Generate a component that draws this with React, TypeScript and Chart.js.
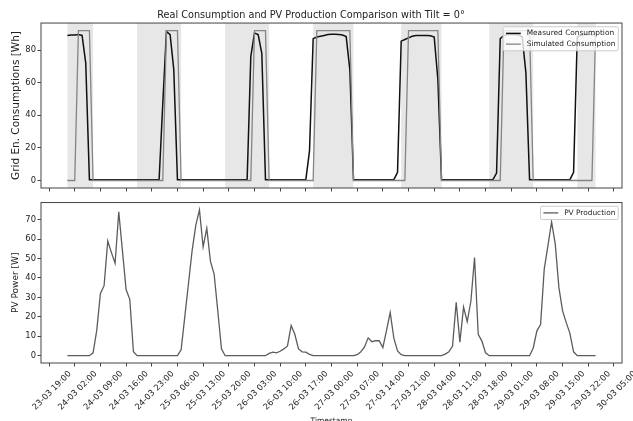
import React, { useEffect, useRef } from 'react';
import { Chart, registerables } from 'chart.js';

Chart.register(...registerables);

const FAMILY = "'DejaVu Sans', 'Liberation Sans', sans-serif";
const TEXT = '#222222';
const AXIS = '#444444';
Chart.defaults.font.family = FAMILY;

// Tick labels of the shared time axis (dd-mm HH:MM)
const tickLabels = [
  '23-03 19:00', '24-03 02:00', '24-03 09:00', '24-03 16:00', '24-03 23:00',
  '25-03 06:00', '25-03 13:00', '25-03 20:00', '26-03 03:00', '26-03 10:00',
  '26-03 17:00', '27-03 00:00', '27-03 07:00', '27-03 14:00', '27-03 21:00',
  '28-03 04:00', '28-03 11:00', '28-03 18:00', '29-03 01:00', '29-03 08:00',
  '29-03 15:00', '29-03 22:00', '30-03 05:00',
];

// Hourly samples starting 24-03 00:00
const measured = [
  89, 89.3, 89.3, 89.5, 89, 72, 0.5,
  0.5, 0.5, 0.5, 0.5, 0.5, 0.5, 0.5, 0.5, 0.5, 0.5, 0.5, 0.5, 0.5, 0.5, 0.5, 0.5, 0.5, 0.5, 0.5,
  47, 91.5, 89.5, 68,
  0.5, 0.5, 0.5, 0.5, 0.5, 0.5, 0.5, 0.5, 0.5, 0.5, 0.5, 0.5, 0.5, 0.5, 0.5, 0.5, 0.5, 0.5, 0.5, 0.5,
  76, 90.5, 89.5, 78,
  0.5, 0.5, 0.5, 0.5, 0.5, 0.5, 0.5, 0.5, 0.5, 0.5, 0.5, 0.5,
  18, 87, 88, 88.5, 89, 89.5, 89.7, 89.7, 89.5, 89.2, 88.3, 68,
  0.5, 0.5, 0.5, 0.5, 0.5, 0.5, 0.5, 0.5, 0.5, 0.5, 0.5, 0.5,
  5, 85.5, 86.5, 87.5, 88.5, 89, 89, 89, 89, 88.8, 88, 62,
  0.5, 0.5, 0.5, 0.5, 0.5, 0.5, 0.5, 0.5, 0.5, 0.5, 0.5, 0.5, 0.5, 0.5, 0.5,
  4.5, 87, 89, 89.5, 89.5, 89.5, 89.3, 88, 66,
  0.5, 0.5, 0.5, 0.5, 0.5, 0.5, 0.5, 0.5, 0.5, 0.5, 0.5, 0.5,
  5, 88, 89, 89.5, 89.5, 89.5, 89.5,
];

const simulated = [
  0, 0, 0,
  92, 92, 92, 92,
  0, 0, 0, 0, 0, 0, 0, 0, 0, 0, 0, 0, 0, 0, 0, 0, 0, 0, 0, 0,
  92, 92, 92, 92,
  0, 0, 0, 0, 0, 0, 0, 0, 0, 0, 0, 0, 0, 0, 0, 0, 0, 0, 0, 0,
  92, 92, 92, 92,
  0, 0, 0, 0, 0, 0, 0, 0, 0, 0, 0, 0, 0,
  92, 92, 92, 92, 92, 92, 92, 92, 92, 92,
  0, 0, 0, 0, 0, 0, 0, 0, 0, 0, 0, 0, 0, 0, 0,
  92, 92, 92, 92, 92, 92, 92, 92, 92,
  0, 0, 0, 0, 0, 0, 0, 0, 0, 0, 0, 0, 0, 0, 0, 0, 0,
  92, 92, 92, 92, 92, 92, 92, 92,
  0, 0, 0, 0, 0, 0, 0, 0, 0, 0, 0, 0, 0, 0, 0, 0, 0,
  92,
];

const pvProduction = [
  0, 0, 0, 0, 0, 0, 0, 1.5, 13, 32, 36, 59, 53, 47.5, 74, 54, 34, 29, 2,
  0, 0, 0, 0, 0, 0, 0, 0, 0, 0, 0, 0,
  3, 20, 37, 54, 67, 75, 56, 65.5, 48.5, 42, 23, 3.5,
  0, 0, 0, 0, 0, 0, 0, 0, 0, 0, 0, 0,
  1.2, 1.8, 1.5, 2.3, 3.5, 5, 15.5, 11, 3.5, 2, 1.8, 0.7,
  0, 0, 0, 0, 0, 0, 0, 0, 0, 0, 0, 0,
  0.5, 2, 4.5, 9.2, 7.2, 7.8, 7.7, 4.2, 13, 22.2, 9, 2.5, 0.5,
  0, 0, 0, 0, 0, 0, 0, 0, 0, 0, 0,
  0.8, 2, 5, 27.5, 7, 25, 17.5, 28, 50.5, 11, 7.5, 1.5,
  0, 0, 0, 0, 0, 0, 0, 0, 0, 0, 0, 0,
  4, 12.8, 16, 44.5, 56.5, 68.8, 57.5, 35, 23, 17, 11.5, 2,
  0, 0, 0, 0, 0, 0,
];

// Night periods (hours since 24-03 00:00)
const nightStart = [0, 19, 43, 67, 91, 115, 139];
const nightEnd = [7, 31, 55, 78, 102, 127, 144];

const topYTicks = [0, 20, 40, 60, 80];
const bottomYTicks = [0, 10, 20, 30, 40, 50, 60, 70];

const hours = measured.map((_, i) => i);
const tickHours = tickLabels.map((l) => {
  const [d, t] = l.split(' ');
  return (parseInt(d.slice(0, 2), 10) - 24) * 24 + parseInt(t.slice(0, 2), 10);
});
const toPoints = (vals: number[]) => vals.map((v, i) => ({ x: hours[i], y: v }));

const X_MIN = -7.2;
const X_MAX = 151.2;

const nightShade = {
  id: 'nightShade',
  beforeDatasetsDraw(chart: any, _a: any, opts: any) {
    if (!opts || !opts.enabled) return;
    const { ctx, chartArea, scales } = chart;
    const x = scales.x;
    ctx.save();
    ctx.fillStyle = 'rgba(128,128,128,0.19)';
    for (let i = 0; i < nightStart.length; i++) {
      const a = x.getPixelForValue(nightStart[i]);
      const b = x.getPixelForValue(nightEnd[i]);
      ctx.fillRect(a, chartArea.top, b - a, chartArea.bottom - chartArea.top);
    }
    ctx.restore();
  },
};

const frame = {
  id: 'frame',
  afterDatasetsDraw(chart: any) {
    const { ctx, chartArea: c } = chart;
    ctx.save();
    ctx.strokeStyle = AXIS;
    ctx.lineWidth = 1;
    ctx.strokeRect(c.left, c.top, c.right - c.left, c.bottom - c.top);
    ctx.restore();
  },
};

const boxLegend = {
  id: 'boxLegend',
  afterDraw(chart: any, _a: any, opts: any) {
    const items = (opts && opts.items) || [];
    if (!items.length) return;
    const { ctx, chartArea: c } = chart;
    const fs = opts.fontSize;
    ctx.save();
    ctx.font = `${fs}px ${FAMILY}`;
    const textW = Math.max(...items.map((it: any) => ctx.measureText(it.label).width));
    const bp = 0.4 * fs, hl = 2 * fs, htp = 0.8 * fs, ls = 0.45 * fs, rowH = fs;
    const w = 2 * bp + hl + htp + textW;
    const h = 2 * bp + items.length * rowH + (items.length - 1) * ls;
    const right = c.right - 0.5 * fs;
    const top = c.top + 0.5 * fs;
    const left = right - w;
    ctx.beginPath();
    ctx.roundRect(left, top, w, h, 0.2 * fs);
    ctx.fillStyle = 'rgba(255,255,255,0.8)';
    ctx.fill();
    ctx.strokeStyle = '#cccccc';
    ctx.lineWidth = 1;
    ctx.stroke();
    items.forEach((it: any, i: number) => {
      const cy = top + bp + i * (rowH + ls) + rowH / 2;
      ctx.strokeStyle = it.color;
      ctx.lineWidth = it.width;
      ctx.beginPath();
      ctx.moveTo(left + bp, cy);
      ctx.lineTo(left + bp + hl, cy);
      ctx.stroke();
      ctx.fillStyle = TEXT;
      ctx.textBaseline = 'middle';
      ctx.textAlign = 'left';
      ctx.fillText(it.label, left + bp + hl + htp, cy);
    });
    ctx.restore();
  },
};

const tickFont = { family: FAMILY, size: 8.4 };

function xScale(showLabels: boolean, height: number): any {
  return {
    type: 'linear',
    min: X_MIN,
    max: X_MAX,
    afterBuildTicks: (s: any) => {
      s.ticks = tickHours.map((v) => ({ value: v }));
    },
    afterFit: (s: any) => {
      s.height = height;
    },
    border: { display: false },
    grid: { drawOnChartArea: false, drawTicks: true, tickLength: 3.5, color: AXIS, lineWidth: 1 },
    ticks: {
      display: showLabels,
      autoSkip: false,
      maxRotation: 45,
      minRotation: 45,
      font: tickFont,
      color: TEXT,
      padding: 2.5,
      labelOffset: 21,
      callback: (v: number) => tickLabels[tickHours.indexOf(v)],
    },
    title: showLabels
      ? { display: true, text: 'Timestamp', color: TEXT, font: { family: FAMILY, size: 7.5 }, padding: { top: 0, bottom: -5 } }
      : { display: false },
  };
}

function yScale(min: number, max: number, ticks: number[], label: string, labelSize: number): any {
  return {
    type: 'linear',
    min,
    max,
    afterBuildTicks: (s: any) => {
      s.ticks = ticks.map((v) => ({ value: v }));
    },
    afterFit: (s: any) => {
      s.width = 41;
    },
    border: { display: false },
    grid: { drawOnChartArea: false, drawTicks: true, tickLength: 3.5, color: AXIS, lineWidth: 1 },
    ticks: { font: tickFont, color: TEXT, padding: 1.5 },
    title: { display: true, text: label, color: TEXT, font: { family: FAMILY, size: labelSize }, padding: { top: 10, bottom: 0 } },
  };
}

export default function App() {
  const topRef = useRef<HTMLCanvasElement | null>(null);
  const botRef = useRef<HTMLCanvasElement | null>(null);

  useEffect(() => {
    if (!topRef.current || !botRef.current) return;
    const top = new Chart(topRef.current, {
      type: 'line',
      data: {
        datasets: [
          {
            label: 'Simulated Consumption',
            data: toPoints(simulated),
            borderColor: '#858585',
            borderWidth: 1.3,
            pointRadius: 0,
            tension: 0,
            order: 0,
          },
          {
            label: 'Measured Consumption',
            data: toPoints(measured),
            borderColor: '#111111',
            borderWidth: 1.5,
            pointRadius: 0,
            tension: 0,
            order: 1,
          },
        ],
      },
      options: {
        responsive: false,
        animation: false,
        events: [],
        layout: { padding: { left: 0, right: 11, top: 0, bottom: 0 } },
        plugins: {
          legend: { display: false },
          tooltip: { enabled: false },
          title: {
            display: true,
            text: 'Real Consumption and PV Production Comparison with Tilt = 0°',
            color: TEXT,
            font: { family: FAMILY, size: 9.7, weight: 'normal' },
            padding: { top: 9.6, bottom: 1.8 },
          },
          nightShade: { enabled: true },
          boxLegend: {
            fontSize: 7.4,
            items: [
              { label: 'Measured Consumption', color: '#111111', width: 1.5 },
              { label: 'Simulated Consumption', color: '#858585', width: 1.3 },
            ],
          },
        } as any,
        scales: {
          x: xScale(false, 8),
          y: yScale(-4.6, 96.6, topYTicks, 'Grid En. Consumptions [Wh]', 10.5),
        },
      },
      plugins: [nightShade, frame, boxLegend],
    });

    const bottom = new Chart(botRef.current, {
      type: 'line',
      data: {
        datasets: [
          {
            label: 'PV Production',
            data: toPoints(pvProduction),
            borderColor: '#5c5c5c',
            borderWidth: 1.3,
            pointRadius: 0,
            tension: 0,
          },
        ],
      },
      options: {
        responsive: false,
        animation: false,
        events: [],
        layout: { padding: { left: 0, right: 11, top: 3, bottom: 0 } },
        plugins: {
          legend: { display: false },
          tooltip: { enabled: false },
          title: { display: false },
          nightShade: { enabled: false },
          boxLegend: {
            fontSize: 7.4,
            items: [{ label: 'PV Production', color: '#5c5c5c', width: 1.3 }],
          },
        } as any,
        scales: {
          x: xScale(true, 58),
          y: yScale(-3.75, 78.75, bottomYTicks, 'PV Power [W]', 9),
        },
      },
      plugins: [nightShade, frame, boxLegend],
    });

    return () => {
      top.destroy();
      bottom.destroy();
    };
  }, []);

  return (
    <div style={{ position: 'absolute', left: 0, top: 0, width: 633, height: 421, background: '#fff', overflow: 'hidden' }}>
      <canvas ref={topRef} width={633} height={196} style={{ position: 'absolute', left: 0, top: 0, width: 633, height: 196 }} />
      <canvas ref={botRef} width={633} height={225} style={{ position: 'absolute', left: 0, top: 196, width: 633, height: 225 }} />
    </div>
  );
}
